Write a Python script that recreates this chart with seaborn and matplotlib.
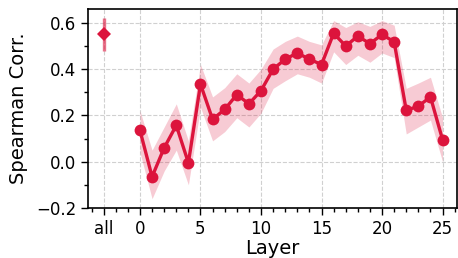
import numpy as np
import pandas as pd
import matplotlib
matplotlib.use("Agg")
import matplotlib.pyplot as plt
import seaborn as sns
from matplotlib.ticker import MultipleLocator

layers = list(range(26))
corr = [0.135, -0.065, 0.06, 0.157, -0.005, 0.335, 0.183, 0.226, 0.29, 0.25,
        0.307, 0.40, 0.443, 0.47, 0.443, 0.42, 0.555, 0.50, 0.543, 0.51,
        0.55, 0.518, 0.222, 0.24, 0.28, 0.095]
lower = [0.04, -0.16, -0.04, 0.05, -0.10, 0.235, 0.09, 0.13, 0.19, 0.15,
         0.21, 0.317, 0.35, 0.38, 0.365, 0.34, 0.475, 0.42, 0.46, 0.43,
         0.47, 0.45, 0.12, 0.15, 0.18, 0.0]
upper = [0.22, 0.05, 0.15, 0.25, 0.09, 0.42, 0.28, 0.32, 0.38, 0.34,
         0.40, 0.487, 0.52, 0.543, 0.52, 0.505, 0.61, 0.58, 0.605, 0.585,
         0.61, 0.59, 0.317, 0.34, 0.365, 0.19]
all_value = 0.55
all_low, all_high = 0.48, 0.62
all_pos = -3
xtick_pos = [-3, 0, 5, 10, 15, 20, 25]
xtick_labels = ["all", "0", "5", "10", "15", "20", "25"]

color = "#DC143C"

sns.set_theme(style="ticks")
plt.rcParams['font.family'] = ['DejaVu Sans']

fig = plt.figure(figsize=(4.58, 2.58), dpi=100)
ax = fig.add_axes([0.192, 0.194, 0.806, 0.771])

df = pd.DataFrame({"Layer": layers, "corr": corr})
ax.fill_between(layers, lower, upper, color=color, alpha=0.22, linewidth=0)
sns.lineplot(data=df, x="Layer", y="corr", ax=ax, color=color, marker="o",
             markersize=8.5, linewidth=2.4, markeredgewidth=0)

ax.errorbar([all_pos], [all_value],
            yerr=[[all_value - all_low], [all_high - all_value]],
            fmt="none", ecolor=color, elinewidth=2.4, alpha=0.6)
ax.plot([all_pos], [all_value], marker="D", markersize=7.5, color=color,
        markeredgewidth=0, linestyle="none")

ax.set_xlim(-4.3, 26.2)
ax.set_ylim(-0.2, 0.66)
ax.set_xticks(xtick_pos)
ax.set_xticklabels(xtick_labels)
ax.set_yticks([-0.2, 0.0, 0.2, 0.4, 0.6])
ax.xaxis.set_minor_locator(MultipleLocator(1))
ax.yaxis.set_minor_locator(MultipleLocator(0.1))
ax.tick_params(axis="both", which="major", labelsize=12, length=5, width=1,
               direction="out", colors="black", labelcolor="black")
ax.tick_params(axis="both", which="minor", length=3, width=1, direction="out", colors="black")
ax.grid(True, which="major", linestyle="--", color="#d0d0d0", linewidth=0.8)
ax.set_xlabel("Layer", fontsize=14, labelpad=1, color="black")
ax.set_ylabel("Spearman Corr.", fontsize=14, color="black", labelpad=6)
for s in ax.spines.values():
    s.set_color("black")
    s.set_linewidth(1.2)

fig.savefig("out.png", dpi=100)
